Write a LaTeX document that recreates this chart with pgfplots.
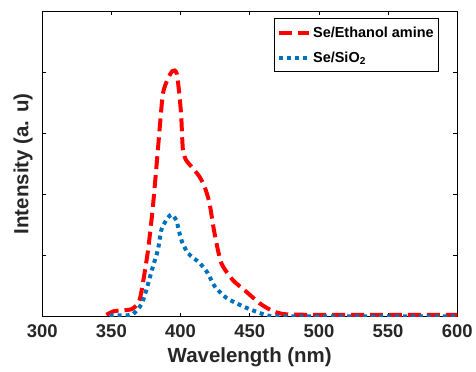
\documentclass[border=0pt]{standalone}
\usepackage{pgfplots}
\pgfplotsset{compat=1.18}
\usepackage{fontspec}
\setmainfont{Liberation Sans}
\definecolor{mred}{RGB}{255,0,0}
\definecolor{mblue}{RGB}{0,114,189}
\definecolor{axgray}{RGB}{38,38,38}
\begin{document}
\begin{tikzpicture}
\begin{axis}[
  scale only axis, width=416pt, height=306pt,
  xmin=300, xmax=600, ymin=0, ymax=5,
  xtick={300,350,...,600}, ytick={0,1,2,3,4,5}, yticklabels={},
  tick align=inside, major tick length=4pt,
  axis line style={line width=0.6pt, black},
  every tick/.style={black, line width=0.6pt},
  /pgf/number format/assume math mode=true,
  tick label style={font=\fontsize{18.5}{20}\selectfont\bfseries, text=axgray},
  xticklabel style={yshift=-5pt},
  xlabel={Wavelength (nm)}, ylabel={Intensity (a. u)},
  label style={font=\fontsize{20.5}{22}\selectfont\bfseries, text=axgray},
  xlabel style={yshift=-3pt},
  ylabel style={at={(axis description cs:-0.0224,0.5)}, anchor=south, inner sep=0pt},
  legend style={at={(0.956,0.977)}, anchor=north east, draw=black, line width=0.6pt,
    font=\fontsize{14.5}{16}\selectfont\bfseries, row sep=9pt, inner xsep=3pt, inner ysep=6pt},
  legend cell align=left,
  legend image code/.code={\draw[#1] (0pt,0pt) -- (30pt,0pt);},
]
\addplot[mred, line width=4pt, line cap=butt, dash pattern=on 13pt off 6pt, smooth, tension=0.4] coordinates {
(346.4,0.03) (352,0.09) (358,0.10) (364.5,0.12) (368,0.18) (370.5,0.28)
(372.8,0.55) (376.5,1.09) (380,1.80) (383.6,2.73) (385,3.11) (387.3,3.66)
(390.9,3.90) (394,4.02) (395.7,4.03) (397.4,3.97) (399.3,3.60) (400.5,3.27)
(401.7,2.73) (404.1,2.56) (408.9,2.43) (413.7,2.29) (417.3,2.13) (420.9,1.86)
(424.5,1.37) (429.4,0.88) (437.7,0.60) (447.4,0.41) (457,0.22) (466.6,0.09)
(475,0.04) (490,0.03) (520,0.03) (560,0.03) (600,0.03)
};
\addlegendentry{Se/Ethanol amine}
\addplot[mblue, line width=4pt, line cap=butt, dash pattern=on 4pt off 4pt, smooth, tension=0.4] coordinates {
(348.8,0.02) (360,0.02) (365.6,0.04) (371.7,0.2) (375.3,0.44) (380,0.82)
(383.6,1.09) (386.1,1.42) (389.7,1.58) (393.3,1.67) (396.9,1.58) (400.5,1.26)
(405.3,1.04) (413.7,0.88) (419.7,0.71) (424.5,0.50) (432.9,0.31) (444.9,0.17)
(457,0.06) (465,0.01) (480,0.005) (540,0.005) (600,0.005)
};
\addlegendentry{Se/SiO\textsubscript{2}}
\end{axis}
\path ([xshift=-42.3pt,yshift=-55pt]current axis.south west) rectangle ([xshift=17.7pt,yshift=11.3pt]current axis.north east);
\end{tikzpicture}
\end{document}
